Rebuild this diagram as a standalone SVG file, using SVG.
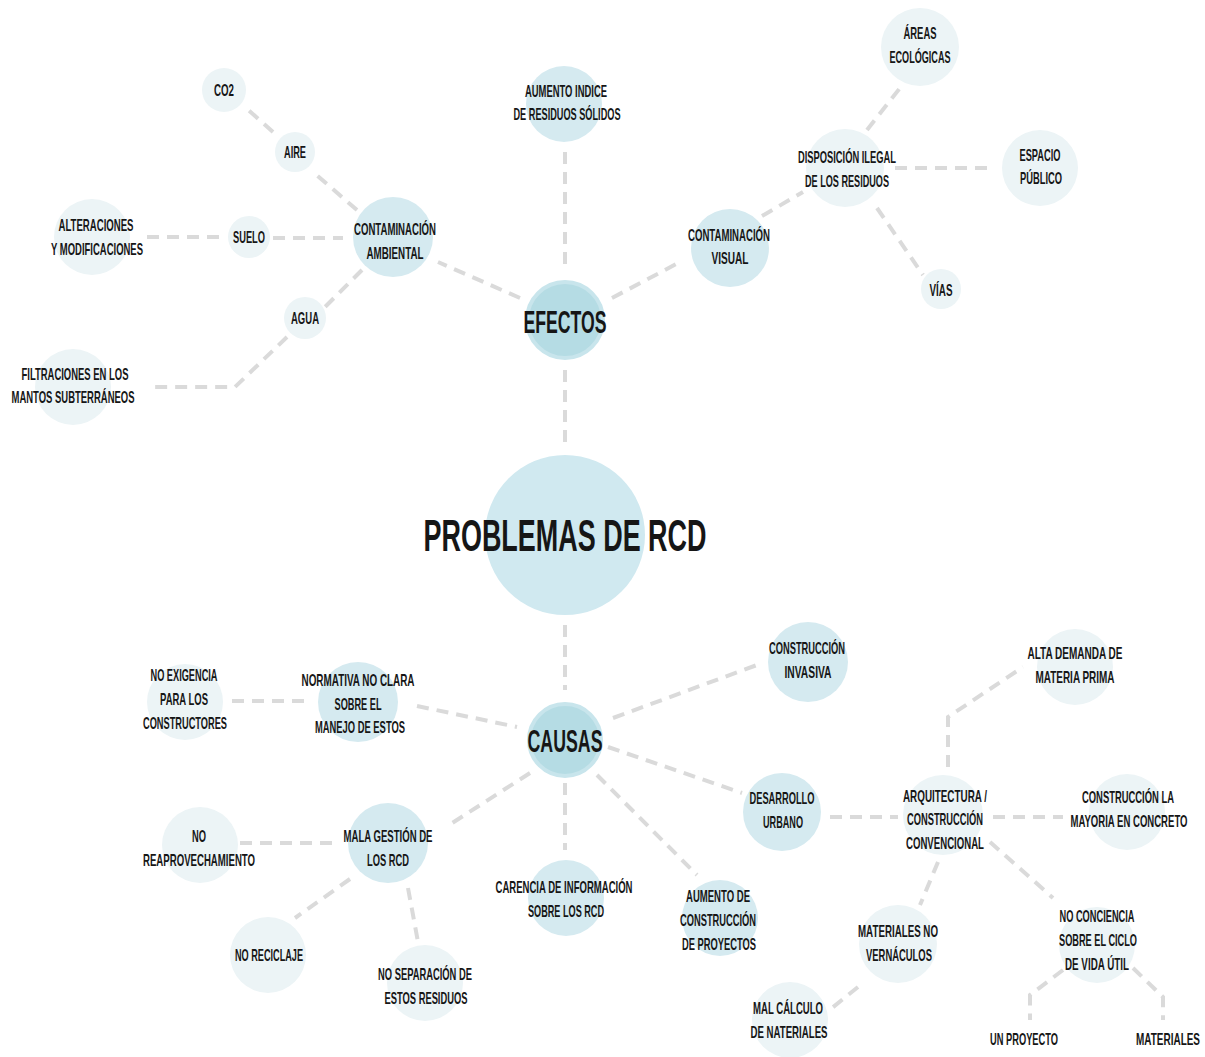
<svg xmlns="http://www.w3.org/2000/svg" width="1205" height="1057" viewBox="0 0 1205 1057">
<style>
.bg{fill:#ffffff}
.p{fill:#ecf4f6}
.m{fill:#d5eaf0}
.s{fill:#b5dce4;stroke:#c8e5ec;stroke-width:4}
.cen{fill:#d0e9f0}
text{font-family:"Liberation Sans",Arial,sans-serif;font-weight:bold;fill:#161616;text-anchor:middle}
.t{font-size:16.5px}
.h{font-size:32px}
.big{font-size:45px}
.con path{fill:none;stroke:#dadada;stroke-width:4;stroke-dasharray:12 8}
</style>
<rect class="bg" x="0" y="0" width="1205" height="1057"/>
<g class="con" id="connectors">
<path d="M565,370 V447"/>
<path d="M565,625 V690"/>
<path d="M565,152 V268"/>
<path d="M520,298 L438,262"/>
<path d="M612,298 L680,262"/>
<path d="M762,216 L803,192"/>
<path d="M867,130 L900,88"/>
<path d="M895,168 H995"/>
<path d="M877,208 L923,275"/>
<path d="M357,210 L313,172"/>
<path d="M273,132 L245,107"/>
<path d="M273,238 H343"/>
<path d="M147,237 H223"/>
<path d="M362,270 L325,307"/>
<path d="M287,337 L235,387 H152"/>
<path d="M232,701 H307"/>
<path d="M417,706 L517,727"/>
<path d="M613,718 L757,665"/>
<path d="M608,747 L742,793"/>
<path d="M530,773 L446,827"/>
<path d="M565,783 V850"/>
<path d="M597,775 L697,875"/>
<path d="M830,817 H898"/>
<path d="M948,767 V717 L1023,667"/>
<path d="M993,817 H1063"/>
<path d="M938,862 L920,905"/>
<path d="M990,842 L1053,898"/>
<path d="M858,987 L832,1008"/>
<path d="M1063,970 L1030,995 V1020"/>
<path d="M1133,968 L1163,997 V1020"/>
<path d="M240,843 H333"/>
<path d="M350,879 L295,918"/>
<path d="M408,888 L418,942"/>
</g>
<g id="center"><circle class="cen" cx="565" cy="535" r="80"/><text class="big" x="565" y="551" textLength="283" lengthAdjust="spacingAndGlyphs">PROBLEMAS DE RCD</text></g>
<g id="efectos"><circle class="s" cx="565" cy="320" r="38"/><text class="h" x="565" y="333" textLength="83" lengthAdjust="spacingAndGlyphs">EFECTOS</text></g>
<g id="causas"><circle class="s" cx="565" cy="740" r="36"/><text class="h" x="565" y="752" textLength="75" lengthAdjust="spacingAndGlyphs">CAUSAS</text></g>
<g id="co2"><circle class="p" cx="224" cy="90" r="22"/><text class="t" x="224" y="96" textLength="20" lengthAdjust="spacingAndGlyphs">CO2</text></g>
<g id="aire"><circle class="p" cx="295" cy="152" r="20"/><text class="t" x="295" y="158" textLength="22" lengthAdjust="spacingAndGlyphs">AIRE</text></g>
<g id="suelo"><circle class="p" cx="249" cy="237" r="21"/><text class="t" x="249" y="243" textLength="32" lengthAdjust="spacingAndGlyphs">SUELO</text></g>
<g id="agua"><circle class="p" cx="305" cy="318" r="21"/><text class="t" x="305" y="324" textLength="28" lengthAdjust="spacingAndGlyphs">AGUA</text></g>
<g id="contamb"><circle class="m" cx="393" cy="237" r="40"/><text class="t" x="395" y="235" textLength="82" lengthAdjust="spacingAndGlyphs">CONTAMINACIÓN</text><text class="t" x="395" y="259" textLength="57" lengthAdjust="spacingAndGlyphs">AMBIENTAL</text></g>
<g id="alter"><circle class="p" cx="92" cy="237" r="38"/><text class="t" x="96" y="231" textLength="75" lengthAdjust="spacingAndGlyphs">ALTERACIONES</text><text class="t" x="97" y="255" textLength="92" lengthAdjust="spacingAndGlyphs">Y MODIFICACIONES</text></g>
<g id="filtr"><circle class="p" cx="73" cy="387" r="38"/><text class="t" x="75" y="380" textLength="107" lengthAdjust="spacingAndGlyphs">FILTRACIONES EN LOS</text><text class="t" x="73" y="403" textLength="123" lengthAdjust="spacingAndGlyphs">MANTOS SUBTERRÁNEOS</text></g>
<g id="aumind"><circle class="m" cx="564" cy="104" r="38"/><text class="t" x="566" y="97" textLength="82" lengthAdjust="spacingAndGlyphs">AUMENTO INDICE</text><text class="t" x="567" y="120" textLength="107" lengthAdjust="spacingAndGlyphs">DE RESIDUOS SÓLIDOS</text></g>
<g id="contvis"><circle class="m" cx="730" cy="248" r="39"/><text class="t" x="729" y="241" textLength="82" lengthAdjust="spacingAndGlyphs">CONTAMINACIÓN</text><text class="t" x="730" y="264" textLength="37" lengthAdjust="spacingAndGlyphs">VISUAL</text></g>
<g id="disp"><circle class="p" cx="845" cy="168" r="39"/><text class="t" x="847" y="163" textLength="98" lengthAdjust="spacingAndGlyphs">DISPOSICIÓN ILEGAL</text><text class="t" x="847" y="187" textLength="84" lengthAdjust="spacingAndGlyphs">DE LOS RESIDUOS</text></g>
<g id="areas"><circle class="p" cx="920" cy="47" r="39"/><text class="t" x="920" y="39" textLength="33" lengthAdjust="spacingAndGlyphs">ÁREAS</text><text class="t" x="920" y="63" textLength="61" lengthAdjust="spacingAndGlyphs">ECOLÓGICAS</text></g>
<g id="espacio"><circle class="p" cx="1040" cy="168" r="38"/><text class="t" x="1040" y="161" textLength="41" lengthAdjust="spacingAndGlyphs">ESPACIO</text><text class="t" x="1041" y="184" textLength="42" lengthAdjust="spacingAndGlyphs">PÚBLICO</text></g>
<g id="vias"><circle class="p" cx="941" cy="289" r="20"/><text class="t" x="941" y="296" textLength="23" lengthAdjust="spacingAndGlyphs">VÍAS</text></g>
<g id="invas"><circle class="m" cx="808" cy="662" r="40"/><text class="t" x="807" y="654" textLength="76" lengthAdjust="spacingAndGlyphs">CONSTRUCCIÓN</text><text class="t" x="808" y="678" textLength="47" lengthAdjust="spacingAndGlyphs">INVASIVA</text></g>
<g id="alta"><circle class="p" cx="1075" cy="667" r="38"/><text class="t" x="1075" y="659" textLength="95" lengthAdjust="spacingAndGlyphs">ALTA DEMANDA DE</text><text class="t" x="1075" y="683" textLength="79" lengthAdjust="spacingAndGlyphs">MATERIA PRIMA</text></g>
<g id="noexig"><circle class="p" cx="185" cy="702" r="38"/><text class="t" x="184" y="681" textLength="67" lengthAdjust="spacingAndGlyphs">NO EXIGENCIA</text><text class="t" x="184" y="705" textLength="48" lengthAdjust="spacingAndGlyphs">PARA LOS</text><text class="t" x="185" y="729" textLength="84" lengthAdjust="spacingAndGlyphs">CONSTRUCTORES</text></g>
<g id="norm"><circle class="m" cx="358" cy="702" r="40"/><text class="t" x="358" y="686" textLength="113" lengthAdjust="spacingAndGlyphs">NORMATIVA NO CLARA</text><text class="t" x="358" y="710" textLength="47" lengthAdjust="spacingAndGlyphs">SOBRE EL</text><text class="t" x="360" y="733" textLength="90" lengthAdjust="spacingAndGlyphs">MANEJO DE ESTOS</text></g>
<g id="desarr"><circle class="m" cx="782" cy="812" r="39"/><text class="t" x="782" y="804" textLength="65" lengthAdjust="spacingAndGlyphs">DESARROLLO</text><text class="t" x="783" y="828" textLength="40" lengthAdjust="spacingAndGlyphs">URBANO</text></g>
<g id="arq"><circle class="p" cx="943" cy="815" r="40"/><text class="t" x="945" y="802" textLength="84" lengthAdjust="spacingAndGlyphs">ARQUITECTURA /</text><text class="t" x="945" y="825" textLength="76" lengthAdjust="spacingAndGlyphs">CONSTRUCCIÓN</text><text class="t" x="945" y="849" textLength="78" lengthAdjust="spacingAndGlyphs">CONVENCIONAL</text></g>
<g id="concreto"><circle class="p" cx="1127" cy="812" r="38"/><text class="t" x="1128" y="803" textLength="92" lengthAdjust="spacingAndGlyphs">CONSTRUCCIÓN LA</text><text class="t" x="1129" y="827" textLength="117" lengthAdjust="spacingAndGlyphs">MAYORIA EN CONCRETO</text></g>
<g id="noreap"><circle class="p" cx="200" cy="845" r="38"/><text class="t" x="199" y="842" textLength="14" lengthAdjust="spacingAndGlyphs">NO</text><text class="t" x="199" y="866" textLength="112" lengthAdjust="spacingAndGlyphs">REAPROVECHAMIENTO</text></g>
<g id="mala"><circle class="m" cx="388" cy="843" r="40"/><text class="t" x="388" y="842" textLength="89" lengthAdjust="spacingAndGlyphs">MALA GESTIÓN DE</text><text class="t" x="388" y="866" textLength="42" lengthAdjust="spacingAndGlyphs">LOS RCD</text></g>
<g id="carencia"><circle class="m" cx="566" cy="898" r="38"/><text class="t" x="564" y="893" textLength="137" lengthAdjust="spacingAndGlyphs">CARENCIA DE INFORMACIÓN</text><text class="t" x="566" y="917" textLength="76" lengthAdjust="spacingAndGlyphs">SOBRE LOS RCD</text></g>
<g id="aumcons"><circle class="m" cx="720" cy="918" r="38"/><text class="t" x="718" y="902" textLength="64" lengthAdjust="spacingAndGlyphs">AUMENTO DE</text><text class="t" x="718" y="926" textLength="76" lengthAdjust="spacingAndGlyphs">CONSTRUCCIÓN</text><text class="t" x="719" y="950" textLength="74" lengthAdjust="spacingAndGlyphs">DE PROYECTOS</text></g>
<g id="matno"><circle class="p" cx="898" cy="944" r="39"/><text class="t" x="898" y="937" textLength="80" lengthAdjust="spacingAndGlyphs">MATERIALES NO</text><text class="t" x="899" y="961" textLength="66" lengthAdjust="spacingAndGlyphs">VERNÁCULOS</text></g>
<g id="noconc"><circle class="p" cx="1097" cy="945" r="38"/><text class="t" x="1097" y="922" textLength="75" lengthAdjust="spacingAndGlyphs">NO CONCIENCIA</text><text class="t" x="1098" y="946" textLength="78" lengthAdjust="spacingAndGlyphs">SOBRE EL CICLO</text><text class="t" x="1097" y="970" textLength="64" lengthAdjust="spacingAndGlyphs">DE VIDA ÚTIL</text></g>
<g id="norec"><circle class="p" cx="268" cy="955" r="38"/><text class="t" x="269" y="961" textLength="68" lengthAdjust="spacingAndGlyphs">NO RECICLAJE</text></g>
<g id="nosep"><circle class="p" cx="425" cy="983" r="38"/><text class="t" x="425" y="980" textLength="94" lengthAdjust="spacingAndGlyphs">NO SEPARACIÓN DE</text><text class="t" x="426" y="1004" textLength="83" lengthAdjust="spacingAndGlyphs">ESTOS RESIDUOS</text></g>
<g id="malcalc"><circle class="p" cx="790" cy="1020" r="38"/><text class="t" x="788" y="1014" textLength="70" lengthAdjust="spacingAndGlyphs">MAL CÁLCULO</text><text class="t" x="789" y="1038" textLength="77" lengthAdjust="spacingAndGlyphs">DE NATERIALES</text></g>
<g id="unproy"><text class="t" x="1024" y="1045" textLength="68" lengthAdjust="spacingAndGlyphs">UN PROYECTO</text></g>
<g id="mater"><text class="t" x="1168" y="1045" textLength="64" lengthAdjust="spacingAndGlyphs">MATERIALES</text></g>
</svg>
